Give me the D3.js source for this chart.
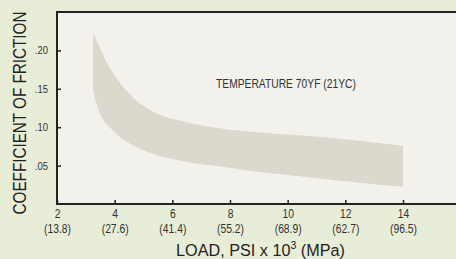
<!DOCTYPE html>
<html>
<head>
<meta charset="utf-8">
<script src="https://cdnjs.cloudflare.com/ajax/libs/d3/7.8.5/d3.min.js"></script>
<style>
  html, body { margin: 0; padding: 0; background: #e8edd8; }
  svg { display: block; }
  text { font-family: "Liberation Sans", Arial, sans-serif; }
</style>
</head>
<body>
<div id="chart"></div>
<script>
'use strict';

// load, psi x 10^3
let loads = [3.25, 3.4, 3.55, 3.85, 4.13, 4.71, 5.29, 6.44, 7.58, 8.75, 10.95, 14];
// coefficient of friction, upper and lower edge of the band
let upper = [0.223, 0.211, 0.198, 0.176, 0.160, 0.136, 0.121, 0.107, 0.099, 0.094, 0.088, 0.076];
let lower = [0.148, 0.127, 0.113, 0.099, 0.089, 0.075, 0.066, 0.055, 0.049, 0.043, 0.034, 0.022];

let xTicks = [2, 4, 6, 8, 10, 12, 14];
let xTickMpa = ['(13.8)', '(27.6)', '(41.4)', '(55.2)', '(68.9)', '(62.7)', '(96.5)'];
let yTicks = [0.05, 0.10, 0.15, 0.20];

let width = 456, height = 259;
let plotLeft = 57, plotTop = 12, plotBottom = 204;
let narrow = 0.86; // the original type is a condensed face

let svg = d3.select('#chart').append('svg')
    .attr('width', width)
    .attr('height', height);

let x = d3.scaleLinear().domain([2, 14]).range([57, 403]);
let y = d3.scaleLinear().domain([0, 0.25]).range([plotBottom, plotTop]);

// plot background
svg.append('rect')
    .attr('x', plotLeft).attr('y', plotTop)
    .attr('width', width - plotLeft).attr('height', plotBottom - plotTop)
    .attr('fill', '#f2f1ec');

// band
let band = loads.map(function (l, i) {
    return { load: l, hi: upper[i], lo: lower[i] };
});
let area = d3.area()
    .x(function (d) { return x(d.load); })
    .y0(function (d) { return y(d.lo); })
    .y1(function (d) { return y(d.hi); })
    .curve(d3.curveMonotoneX);
svg.append('path')
    .datum(band)
    .attr('d', area)
    .attr('fill', '#ddd8cd');

// frame lines
svg.append('line')
    .attr('x1', plotLeft).attr('x2', width).attr('y1', plotTop).attr('y2', plotTop)
    .attr('stroke', '#222').attr('stroke-width', 2);
svg.append('line')
    .attr('x1', plotLeft).attr('x2', width).attr('y1', plotBottom).attr('y2', plotBottom)
    .attr('stroke', '#222').attr('stroke-width', 2);
svg.append('line')
    .attr('x1', plotLeft).attr('x2', plotLeft).attr('y1', plotTop - 1).attr('y2', plotBottom + 1)
    .attr('stroke', '#222').attr('stroke-width', 2);

// y axis
let yAxis = d3.axisLeft(y)
    .tickValues(yTicks)
    .tickSize(-4)
    .tickFormat(function (d) { return d3.format('.2f')(d).replace(/^0/, ''); });
let gy = svg.append('g')
    .attr('transform', 'translate(' + plotLeft + ',0)')
    .call(yAxis);
gy.select('.domain').remove();
gy.selectAll('.tick line').attr('stroke', '#222').attr('stroke-width', 1.5);
gy.selectAll('.tick text')
    .attr('x', -9 / narrow)
    .attr('transform', 'scale(' + narrow + ',1)')
    .attr('fill', '#333')
    .attr('font-size', 11);

// x axis
let xAxis = d3.axisBottom(x)
    .tickValues(xTicks)
    .tickSize(-4)
    .tickFormat(function (d) { return d; });
let gx = svg.append('g')
    .attr('transform', 'translate(0,' + plotBottom + ')')
    .call(xAxis);
gx.select('.domain').remove();
gx.selectAll('.tick line').attr('stroke', '#222').attr('stroke-width', 1.5);
gx.selectAll('.tick text').remove();
gx.selectAll('.tick').each(function (d, i) {
    let t = d3.select(this).append('text')
        .attr('text-anchor', 'middle')
        .attr('transform', 'scale(' + narrow + ',1)')
        .attr('fill', '#333')
        .attr('font-size', 12);
    t.append('tspan').attr('x', 0).attr('y', 14.5).text(d);
    t.append('tspan').attr('x', 0).attr('y', 29).text(xTickMpa[i]);
});

// squeeze a text horizontally so it spans the given width
function squeeze(sel, w) {
    return w / sel.node().getComputedTextLength();
}

// y title
let yt = svg.append('text')
    .attr('text-anchor', 'middle')
    .attr('fill', '#222')
    .attr('font-size', 17.5)
    .text('COEFFICIENT OF FRICTION');
yt.attr('transform', 'translate(25.5,113) rotate(-90) scale(' + squeeze(yt, 203) + ',1)');

// x title, in three pieces so the exponent sits beside the base
let xParts = [
    { s: 'LOAD, PSI x 10', size: 17, dy: 0 },
    { s: '3', size: 11, dy: -7 },
    { s: '\u00a0(MPa)', size: 17, dy: 0 }
];
let xNodes = xParts.map(function (p) {
    return svg.append('text')
        .attr('fill', '#222')
        .attr('font-size', p.size)
        .text(p.s);
});
let xLens = xNodes.map(function (n) { return n.node().getComputedTextLength(); });
let xScaleF = 169 / d3.sum(xLens);
let cursor = 176;
xNodes.forEach(function (n, i) {
    n.attr('transform', 'translate(' + cursor + ',' + (256 + xParts[i].dy) + ') scale(' + xScaleF + ',1)');
    cursor += xLens[i] * xScaleF;
});

// annotation
let note = svg.append('text')
    .attr('fill', '#333')
    .attr('font-size', 12)
    .text('TEMPERATURE 70\u03A5F (21\u03A5C)');
note.attr('transform', 'translate(216,88) scale(' + squeeze(note, 140) + ',1)');
</script>
</body>
</html>
